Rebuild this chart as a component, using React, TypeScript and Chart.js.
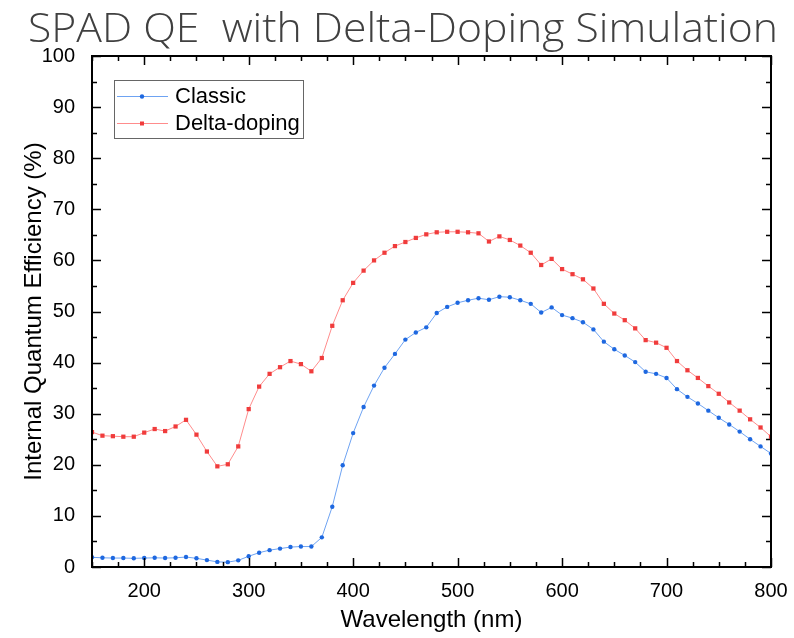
import React, { useEffect, useRef } from "react";
import { Chart, registerables } from "chart.js";

Chart.register(...registerables);

const TITLE = "SPAD QE  with Delta-Doping Simulation";
const X_LABEL = "Wavelength (nm)";
const Y_LABEL = "Internal Quantum Efficiency (%)";
const SERIES_NAMES = ["Classic", "Delta-doping"];

const wavelengths: number[] = [
  150, 160, 170, 180, 190, 200, 210, 220, 230, 240, 250, 260, 270, 280, 290,
  300, 310, 320, 330, 340, 350, 360, 370, 380, 390, 400, 410, 420, 430, 440,
  450, 460, 470, 480, 490, 500, 510, 520, 530, 540, 550, 560, 570, 580, 590,
  600, 610, 620, 630, 640, 650, 660, 670, 680, 690, 700, 710, 720, 730, 740,
  750, 760, 770, 780, 790, 800,
];

const classic: number[] = [
  1.9, 1.8, 1.75, 1.75, 1.7, 1.75, 1.8, 1.75, 1.8, 1.95, 1.7, 1.35, 1.0, 0.95, 1.3,
  2.1, 2.8, 3.3, 3.6, 3.9, 4.0, 4.0, 5.8, 11.8, 19.9, 26.2, 31.3, 35.5, 39.0, 41.7,
  44.5, 45.9, 46.9, 49.7, 50.9, 51.7, 52.2, 52.6, 52.3, 52.9, 52.8, 52.2, 51.5, 49.8, 50.8,
  49.3, 48.7, 47.9, 46.5, 44.1, 42.6, 41.4, 40.1, 38.2, 37.8, 37.0, 34.8, 33.3, 32.0, 30.6,
  29.2, 27.9, 26.5, 25.0, 23.6, 22.2,
];

const deltaDoping: number[] = [
  26.4, 25.7, 25.6, 25.5, 25.5, 26.3, 27.0, 26.6, 27.5, 28.8, 25.9, 22.6, 19.7, 20.1, 23.6,
  30.9, 35.3, 37.8, 39.1, 40.3, 39.7, 38.3, 40.9, 47.2, 52.2, 55.6, 58.0, 60.0, 61.5, 62.8,
  63.6, 64.4, 65.1, 65.5, 65.6, 65.6, 65.5, 65.3, 63.7, 64.7, 64.0, 62.9, 61.5, 59.1, 60.3,
  58.3, 57.3, 56.3, 54.5, 51.5, 49.6, 48.3, 46.7, 44.4, 43.9, 42.9, 40.3, 38.5, 37.0, 35.4,
  33.9, 32.2, 30.6, 28.9, 27.3, 25.5,
];

const xTickLabels: number[] = [200, 300, 400, 500, 600, 700, 800];
const yTickLabels: number[] = [0, 10, 20, 30, 40, 50, 60, 70, 80, 90, 100];

const BLUE_LINE = "#6ea3f2";
const BLUE_PT = "#1e68e0";
const RED_LINE = "#ff8c8c";
const RED_PT = "#f03c3c";
const FONT = "Arial, 'Liberation Sans', sans-serif";

const framePlugin = {
  id: "frameTicks",
  afterDatasetsDraw(chart: any) {
    const { ctx, chartArea, scales } = chart;
    const { left, right, top, bottom } = chartArea;
    const x = scales.x;
    const y = scales.y;
    ctx.save();
    ctx.strokeStyle = "#000";
    ctx.lineWidth = 1.5;
    ctx.beginPath();
    for (let v = 150; v <= 800; v += 25) {
      const px = Math.round(x.getPixelForValue(v)) + 0.5;
      const len = v % 100 === 0 ? 9 : 5;
      ctx.moveTo(px, bottom);
      ctx.lineTo(px, bottom - len);
      ctx.moveTo(px, top);
      ctx.lineTo(px, top + len);
    }
    for (let v = 0; v <= 100; v += 5) {
      const py = Math.round(y.getPixelForValue(v)) + 0.5;
      const len = v % 10 === 0 ? 9 : 5;
      ctx.moveTo(left, py);
      ctx.lineTo(left + len, py);
      ctx.moveTo(right, py);
      ctx.lineTo(right - len, py);
    }
    ctx.stroke();
    ctx.lineWidth = 2;
    ctx.strokeRect(left, top, right - left, bottom - top);

    // legend
    const bx = 114.5, by = 80.5, bw = 189, bh = 58;
    ctx.fillStyle = "#fff";
    ctx.fillRect(bx, by, bw, bh);
    ctx.lineWidth = 1;
    ctx.strokeStyle = "#666";
    ctx.strokeRect(bx, by, bw, bh);
    const rows = [
      { name: SERIES_NAMES[0], line: BLUE_LINE, pt: BLUE_PT, yy: 96, sq: false },
      { name: SERIES_NAMES[1], line: RED_LINE, pt: RED_PT, yy: 123, sq: true },
    ];
    ctx.font = `22px ${FONT}`;
    ctx.textBaseline = "middle";
    ctx.textAlign = "left";
    for (const r of rows) {
      ctx.strokeStyle = r.line;
      ctx.lineWidth = 1;
      ctx.beginPath();
      ctx.moveTo(117, r.yy + 0.5);
      ctx.lineTo(168, r.yy + 0.5);
      ctx.stroke();
      ctx.fillStyle = r.pt;
      if (r.sq) {
        ctx.fillRect(140, r.yy - 1.5, 4, 4);
      } else {
        ctx.beginPath();
        ctx.arc(142, r.yy + 0.5, 2.2, 0, Math.PI * 2);
        ctx.fill();
      }
      ctx.fillStyle = "#000";
      ctx.fillText(r.name, 175, r.yy + 1);
    }

    // title
    ctx.font = `300 40px 'Open Sans', sans-serif`;
    ctx.fillStyle = "#404040";
    ctx.textAlign = "center";
    ctx.textBaseline = "alphabetic";
    const w = ctx.measureText(TITLE).width;
    const sx = 750 / w;
    ctx.translate(403, 42);
    ctx.scale(sx, 1);
    ctx.fillText(TITLE, 0, 0);
    ctx.restore();
  },
};

export default function App() {
  const ref = useRef<HTMLCanvasElement | null>(null);
  useEffect(() => {
    if (!ref.current) return;
    const chart = new Chart(ref.current, {
      type: "line",
      data: {
        datasets: [
          {
            label: SERIES_NAMES[0],
            data: wavelengths.map((w, i) => ({ x: w, y: classic[i] })),
            borderColor: BLUE_LINE,
            backgroundColor: BLUE_PT,
            borderWidth: 1,
            pointRadius: 2.2,
            pointBackgroundColor: BLUE_PT,
            pointBorderColor: BLUE_PT,
            pointBorderWidth: 0,
            pointStyle: "circle",
            tension: 0,
          },
          {
            label: SERIES_NAMES[1],
            data: wavelengths.map((w, i) => ({ x: w, y: deltaDoping[i] })),
            borderColor: RED_LINE,
            backgroundColor: RED_PT,
            borderWidth: 1,
            pointRadius: 3,
            pointBackgroundColor: RED_PT,
            pointBorderColor: RED_PT,
            pointBorderWidth: 0,
            pointStyle: "rect",
            tension: 0,
          },
        ],
      },
      options: {
        responsive: false,
        animation: false,
        devicePixelRatio: 1,
        layout: { padding: { top: 56, right: 23, left: 0, bottom: 0 } },
        plugins: {
          legend: { display: false },
          tooltip: { enabled: false },
          title: { display: false },
        },
        scales: {
          x: {
            type: "linear",
            min: 150,
            max: 800,
            grid: { display: false },
            border: { display: false },
            afterBuildTicks: (s: any) => {
              s.ticks = xTickLabels.map((v) => ({ value: v }));
            },
            afterFit: (s: any) => {
              s.height = 71;
            },
            ticks: {
              font: { size: 20, family: FONT },
              color: "#000",
              padding: 4,
              maxRotation: 0,
              autoSkip: false,
            },
            title: {
              display: true,
              text: X_LABEL,
              font: { size: 24, family: FONT },
              color: "#000",
              padding: { top: 0, bottom: 3 },
            },
          },
          y: {
            type: "linear",
            min: 0,
            max: 100,
            grid: { display: false },
            border: { display: false },
            afterBuildTicks: (s: any) => {
              s.ticks = yTickLabels.map((v) => ({ value: v }));
            },
            afterFit: (s: any) => {
              s.width = 92;
            },
            ticks: {
              font: { size: 20, family: FONT },
              color: "#000",
              padding: 9,
              autoSkip: false,
            },
            title: {
              display: true,
              text: Y_LABEL,
              font: { size: 24, family: FONT },
              color: "#000",
              padding: { top: 20, bottom: 0 },
            },
          },
        },
      },
      plugins: [framePlugin],
    });
    return () => chart.destroy();
  }, []);
  return (
    <div style={{ position: "absolute", left: 0, top: 0, width: 794, height: 638, background: "#fff" }}>
      <canvas ref={ref} width={794} height={638} style={{ width: 794, height: 638 }} />
    </div>
  );
}
